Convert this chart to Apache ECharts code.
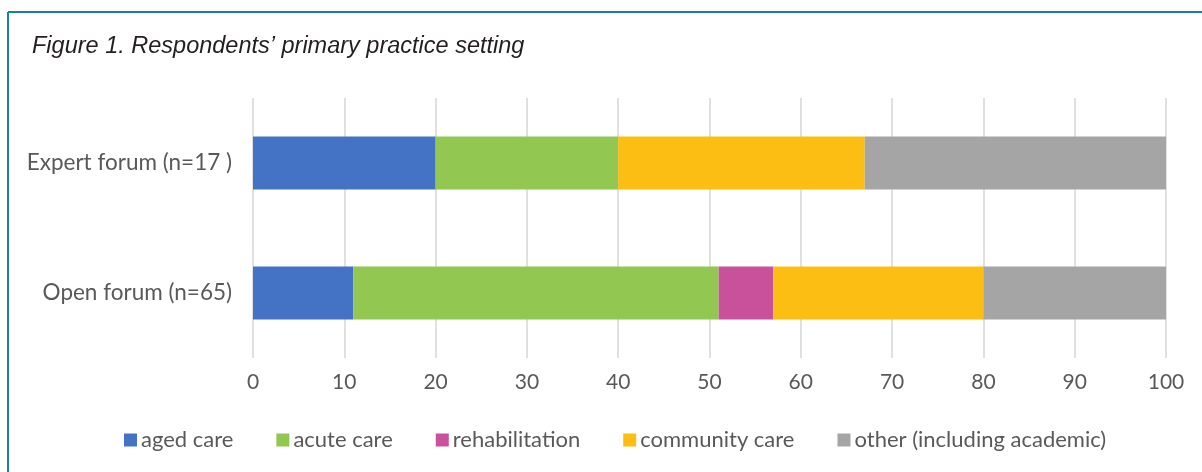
<!DOCTYPE html>
<html>
<head>
<meta charset="utf-8">
<script src="https://cdn.jsdelivr.net/npm/echarts@6/dist/echarts.min.js"></script>
<style>
html,body{margin:0;padding:0;background:#fff;}
#chart{width:1202px;height:472px;}
</style>
</head>
<body>
<div id="chart"></div>
<script>
const titleText = "Figure 1. Respondents’ primary practice setting";
const categories = ["Open forum (n=65)", "Expert forum (n=17 )"];
const seriesNames = ["aged care", "acute care", "rehabilitation", "community care", "other (including academic)"];
const agedCare = [11, 20];
const acuteCare = [40, 20];
const rehabilitation = [6, 0];
const communityCare = [23, 27];
const otherCare = [20, 33];
const colors = ["#4472C4", "#92C852", "#C9509B", "#FCBE13", "#A5A5A5"];
const xTicks = {min: 0, max: 100, interval: 10};

const dataSets = [agedCare, acuteCare, rehabilitation, communityCare, otherCare];
const chart = echarts.init(document.getElementById('chart'), null, {renderer: 'canvas'});
const font = 'Lato, "Open Sans", sans-serif';
chart.setOption({
  animation: false,
  backgroundColor: '#fff',
  title: {
    text: titleText,
    left: 32, top: 35, padding: 0,
    textStyle: {fontFamily: '"Liberation Sans", Arial, sans-serif', fontStyle: 'italic', fontWeight: 'normal', fontSize: 23.5, color: '#231F20'}
  },
  graphic: [
    {type: 'line', shape: {x1: 8, y1: 12, x2: 1202, y2: 12}, style: {stroke: '#1B7FA3', lineWidth: 2}},
    {type: 'line', shape: {x1: 8, y1: 12, x2: 8, y2: 472}, style: {stroke: '#1B7FA3', lineWidth: 2}}
  ],
  legend: {
    top: 424, left: 119,
    itemWidth: 13, itemHeight: 13, itemGap: 43,
    icon: 'rect',
    textStyle: {fontFamily: font, fontSize: 22, color: '#595959', padding: [0, 0, 0, -1]},
    data: seriesNames
  },
  grid: {left: 253, right: 36, top: 98, bottom: 114},
  xAxis: {
    type: 'value', min: xTicks.min, max: xTicks.max, interval: xTicks.interval,
    axisLine: {show: false}, axisTick: {show: false},
    axisLabel: {fontFamily: font, fontSize: 21, color: '#595959', margin: 14},
    splitLine: {lineStyle: {color: '#D9D5D5', width: 1.5}}
  },
  yAxis: {
    type: 'category', data: categories,
    axisLine: {show: false}, axisTick: {show: false},
    axisLabel: {fontFamily: font, fontSize: 22.5, color: '#595959', margin: 21}
  },
  series: dataSets.map((d, i) => ({
    name: seriesNames[i], type: 'bar', stack: 'total',
    data: d, barWidth: 53,
    itemStyle: {color: colors[i]}
  }))
});
</script>
</body>
</html>
